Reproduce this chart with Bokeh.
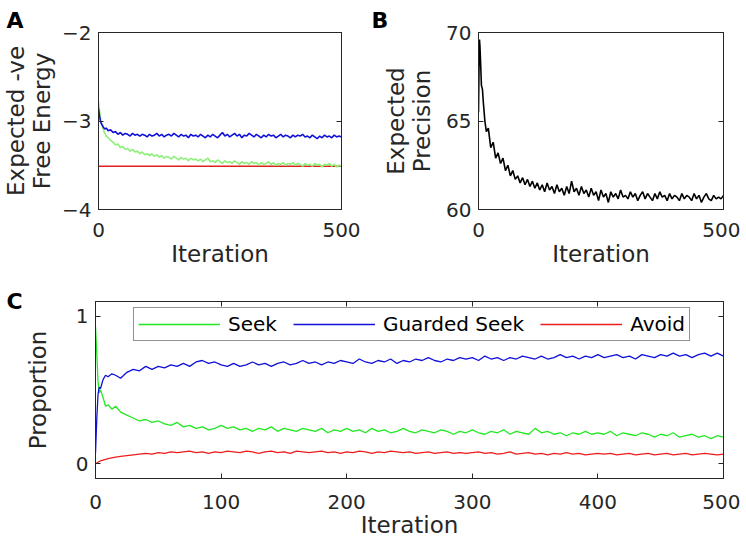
from bokeh.plotting import figure
from bokeh.models import Range1d, FixedTicker, LinearAxis, Title
from bokeh.layouts import column, row
from bokeh.embed import file_html
from bokeh.resources import INLINE

iters = [0, 1, 2, 3, 4, 6, 8, 10, 13, 16] + list(range(20, 505, 5))

a_guarded = [-2.86, -2.90, -2.94, -2.97, -3.00, -3.03, -3.05, -3.07, -3.09, -3.08,
             -3.11, -3.10, -3.13, -3.12, -3.15, -3.13, -3.16, -3.14, -3.15, -3.17, -3.14, -3.16, -3.15, -3.17, -3.15, -3.16, -3.18,
             -3.15, -3.17, -3.16, -3.14, -3.17, -3.15, -3.18, -3.16, -3.15, -3.17, -3.14, -3.16, -3.18, -3.15, -3.17, -3.16, -3.19, -3.15, -3.17, -3.16,
             -3.18, -3.15, -3.17, -3.19, -3.16, -3.18, -3.15, -3.17, -3.19, -3.16, -3.13, -3.17, -3.15, -3.18, -3.16, -3.14, -3.17, -3.15, -3.19, -3.16,
             -3.17, -3.14, -3.16, -3.18, -3.15, -3.17, -3.19, -3.16, -3.18, -3.15, -3.17, -3.16, -3.19, -3.17, -3.15, -3.18, -3.16, -3.17, -3.19, -3.16,
             -3.18, -3.16, -3.17, -3.15, -3.18, -3.17, -3.19, -3.16, -3.18, -3.20, -3.17, -3.19, -3.16, -3.18, -3.17, -3.19, -3.16, -3.18, -3.17, -3.18]
a_seek = [-2.78, -2.83, -2.88, -2.93, -2.97, -3.03, -3.06, -3.10, -3.14, -3.17,
          -3.19, -3.22, -3.24, -3.27, -3.26, -3.30, -3.29, -3.32, -3.31, -3.34, -3.32, -3.35, -3.34, -3.37, -3.35, -3.38, -3.37,
          -3.39, -3.37, -3.40, -3.38, -3.41, -3.39, -3.42, -3.40, -3.41, -3.43, -3.40, -3.42, -3.44, -3.41, -3.43, -3.42, -3.45, -3.42, -3.44, -3.43,
          -3.45, -3.43, -3.46, -3.44, -3.42, -3.46, -3.45, -3.47, -3.44, -3.46, -3.48, -3.45, -3.47, -3.46, -3.48, -3.45, -3.47, -3.49, -3.46, -3.48,
          -3.47, -3.49, -3.46, -3.48, -3.47, -3.50, -3.47, -3.49, -3.48, -3.46, -3.49, -3.47, -3.50, -3.48, -3.49, -3.47, -3.50, -3.48, -3.49, -3.47,
          -3.50, -3.48, -3.49, -3.51, -3.48, -3.50, -3.49, -3.51, -3.48, -3.50, -3.49, -3.52, -3.49, -3.50, -3.48, -3.51, -3.49, -3.52, -3.50, -3.51]
a_avoid_x = [0, 500]
a_avoid = [-3.51, -3.51]

b_precision = [65.5, 68.0, 69.6, 69.2, 68.5, 67.0, 66.8, 66.0, 65.0, 64.4,
               64.6, 63.5, 63.8, 62.9, 63.2, 62.6, 62.9, 62.2, 62.5, 61.9, 62.2, 61.7, 61.9, 61.5, 61.8, 61.4, 61.7,
               61.3, 61.6, 61.2, 61.5, 61.1, 61.4, 61.0, 61.5, 61.1, 61.3, 60.9, 61.4, 61.0, 61.2, 60.8, 61.3, 60.9, 61.6, 61.0, 61.2,
               60.8, 61.3, 60.9, 61.1, 60.7, 61.2, 60.8, 61.0, 60.5, 61.1, 60.7, 60.9, 60.4, 61.0, 60.7, 60.9, 60.6, 61.1, 60.7, 60.8,
               60.6, 61.0, 60.7, 60.9, 60.5, 60.8, 61.0, 60.6, 60.9, 60.7, 60.5, 60.9, 60.6, 61.0, 60.7, 60.8, 60.5, 60.9, 60.6, 60.8,
               60.7, 60.5, 60.9, 60.6, 60.8, 60.7, 60.5, 60.9, 60.6, 60.8, 60.4, 60.7, 60.9, 60.6, 60.5, 60.8, 60.6, 60.7, 60.6, 60.8]

c_seek = [0.93, 0.75, 0.56, 0.48, 0.50, 0.45, 0.39, 0.40, 0.37, 0.39,
          0.35, 0.33, 0.31, 0.29, 0.30, 0.28, 0.29, 0.27, 0.26, 0.28, 0.25, 0.26, 0.24, 0.25, 0.23, 0.24, 0.26,
          0.24, 0.25, 0.23, 0.24, 0.22, 0.24, 0.23, 0.25, 0.22, 0.24, 0.23, 0.22, 0.24, 0.23, 0.22, 0.24, 0.21, 0.23, 0.22, 0.24,
          0.22, 0.23, 0.21, 0.24, 0.22, 0.23, 0.21, 0.22, 0.24, 0.22, 0.21, 0.23, 0.22, 0.21, 0.23, 0.22, 0.20, 0.22, 0.21, 0.23,
          0.21, 0.20, 0.22, 0.21, 0.23, 0.20, 0.22, 0.21, 0.20, 0.24, 0.21, 0.22, 0.20, 0.21, 0.19, 0.21, 0.20, 0.22, 0.20, 0.21,
          0.20, 0.22, 0.19, 0.21, 0.20, 0.19, 0.21, 0.20, 0.18, 0.20, 0.19, 0.21, 0.18, 0.19, 0.20, 0.18, 0.19, 0.17, 0.19, 0.18]
c_guarded = [0.07, 0.30, 0.47, 0.52, 0.51, 0.57, 0.60, 0.59, 0.61, 0.60,
             0.58, 0.62, 0.64, 0.63, 0.66, 0.64, 0.66, 0.65, 0.67, 0.66, 0.68, 0.66, 0.69, 0.70, 0.68, 0.69, 0.67,
             0.66, 0.68, 0.66, 0.67, 0.69, 0.67, 0.68, 0.66, 0.68, 0.69, 0.67, 0.68, 0.70, 0.68, 0.69, 0.67, 0.69, 0.68, 0.70, 0.69,
             0.68, 0.71, 0.69, 0.68, 0.70, 0.69, 0.71, 0.68, 0.70, 0.69, 0.71, 0.70, 0.72, 0.70, 0.69, 0.71, 0.70, 0.72, 0.71, 0.72,
             0.70, 0.73, 0.71, 0.72, 0.70, 0.72, 0.71, 0.73, 0.72, 0.71, 0.73, 0.71, 0.72, 0.74, 0.72, 0.73, 0.71, 0.73, 0.72, 0.74,
             0.72, 0.73, 0.74, 0.72, 0.73, 0.71, 0.74, 0.73, 0.72, 0.74, 0.73, 0.75, 0.73, 0.74, 0.72, 0.74, 0.75, 0.73, 0.75, 0.73]
c_avoid = [0.00, 0.005, 0.01, 0.015, 0.02, 0.025, 0.03, 0.035, 0.04, 0.045,
           0.05, 0.055, 0.06, 0.065, 0.07, 0.065, 0.075, 0.07, 0.08, 0.075, 0.08, 0.085, 0.075, 0.08, 0.07, 0.08, 0.075,
           0.085, 0.08, 0.075, 0.085, 0.08, 0.07, 0.08, 0.085, 0.075, 0.08, 0.07, 0.085, 0.08, 0.075, 0.08, 0.085, 0.075, 0.08, 0.07, 0.08,
           0.075, 0.085, 0.08, 0.07, 0.08, 0.075, 0.085, 0.08, 0.075, 0.08, 0.07, 0.075, 0.08, 0.07, 0.075, 0.08, 0.07, 0.075, 0.07, 0.075,
           0.08, 0.07, 0.075, 0.065, 0.07, 0.08, 0.065, 0.07, 0.075, 0.065, 0.07, 0.06, 0.07, 0.065, 0.075, 0.065, 0.07, 0.06, 0.065, 0.07,
           0.065, 0.07, 0.06, 0.065, 0.07, 0.06, 0.065, 0.07, 0.06, 0.065, 0.07, 0.06, 0.065, 0.07, 0.06, 0.065, 0.07, 0.065, 0.06, 0.065]

a_yticks = [-4, -3, -2]
b_yticks = [60, 65, 70]
c_yticks = [0, 1]
ab_xticks = [0, 500]
c_xticks = [0, 100, 200, 300, 400, 500]
legend_names = ["Seek", "Guarded Seek", "Avoid"]

FONT = "DejaVu Sans"
INK = "#262626"


def style(p, xticks, yticks, xlabel, ylabel, ylabel_standoff, xl_standoff, xa_standoff):
    p.outline_line_color = INK
    p.outline_line_width = 1
    p.grid.visible = False
    p.background_fill_color = "white"
    p.border_fill_color = "white"
    for ax in (p.xaxis[0], p.yaxis[0]):
        ax.major_tick_in = 5
        ax.major_tick_out = 0
        ax.minor_tick_line_color = None
        ax.axis_line_color = INK
        ax.major_tick_line_color = INK
        ax.major_label_text_font = FONT
        ax.major_label_text_font_size = "20px"
        ax.major_label_text_color = INK
        ax.axis_label_text_font = FONT
        ax.axis_label_text_font_size = "23px"
        ax.axis_label_text_font_style = "normal"
        ax.axis_label_text_color = INK
        ax.axis_label_text_line_height = 1.0
    p.xaxis[0].ticker = FixedTicker(ticks=xticks)
    p.yaxis[0].ticker = FixedTicker(ticks=yticks)
    p.xaxis[0].axis_label = xlabel
    p.yaxis[0].axis_label = ylabel
    p.xaxis[0].major_label_standoff = xl_standoff
    p.xaxis[0].axis_label_standoff = xa_standoff
    p.yaxis[0].major_label_standoff = 7
    p.yaxis[0].axis_label_standoff = ylabel_standoff
    # mirrored tick marks (box)
    r = LinearAxis(ticker=FixedTicker(ticks=yticks), major_tick_in=5, major_tick_out=0,
                   minor_tick_line_color=None, axis_line_color=INK, major_tick_line_color=INK,
                   major_label_text_font_size="1px", major_label_text_alpha=0,
                   major_label_overrides={v: "" for v in yticks}, major_label_standoff=0)
    p.add_layout(r, "right")
    t = LinearAxis(ticker=FixedTicker(ticks=xticks), major_tick_in=5, major_tick_out=0,
                   minor_tick_line_color=None, axis_line_color=INK, major_tick_line_color=INK,
                   major_label_text_font_size="1px", major_label_text_alpha=0,
                   major_label_overrides={v: "" for v in xticks}, major_label_standoff=0)
    p.add_layout(t, "above")


def letter(p, text, offset, standoff):
    p.add_layout(Title(text=text, align="left", offset=offset, standoff=standoff,
                       vertical_align="bottom", text_font=FONT, text_font_style="bold",
                       text_font_size="22px", text_color="black"), "above")


# Panel A
pA = figure(width=370, height=280, output_backend="svg", toolbar_location=None,
            x_range=Range1d(0, 500), y_range=Range1d(-4, -2),
            min_border_left=95, min_border_right=29, min_border_top=32, min_border_bottom=71)
pA.line(a_avoid_x, a_avoid, line_color="#e02020", line_width=1.5)
pA.line(iters, a_seek, line_color="#8ef07a", line_width=1.6)
pA.line(iters, a_guarded, line_color="#1010d8", line_width=1.6)
style(pA, ab_xticks, a_yticks, "Iteration", "Expected -ve\nFree Energy", 4, 13, 1)
letter(pA, "A", -92, 0)

# Panel B
pB = figure(width=370, height=280, output_backend="svg", toolbar_location=None,
            x_range=Range1d(0, 500), y_range=Range1d(60, 70),
            min_border_left=108, min_border_right=17, min_border_top=32, min_border_bottom=71)
pB.line(iters, b_precision, line_color="black", line_width=1.6)
style(pB, ab_xticks, b_yticks, "Iteration", "Expected\nPrecision", 8, 13, 1)
letter(pB, "B", -107, 0)

# Panel C
pC = figure(width=740, height=262, output_backend="svg", toolbar_location=None,
            x_range=Range1d(0, 500), y_range=Range1d(-0.1, 1.1),
            min_border_left=95, min_border_right=17, min_border_top=21, min_border_bottom=64)
pC.line(iters, c_seek, line_color="#22e822", line_width=1.3, legend_label=legend_names[0])
pC.line(iters, c_guarded, line_color="#1010d8", line_width=1.3, legend_label=legend_names[1])
pC.line(iters, c_avoid, line_color="#ee1c1c", line_width=1.3, legend_label=legend_names[2])
style(pC, c_xticks, c_yticks, "Iteration", "Proportion", 22, 16, 0)
letter(pC, "C", -89, -24)
lg = pC.legend[0]
lg.orientation = "horizontal"
lg.location = (38, 137)
lg.glyph_width = 82
lg.glyph_height = 20
lg.label_height = 20
lg.label_text_font = FONT
lg.label_text_font_size = "20px"
lg.label_text_color = "black"
lg.label_standoff = 8
lg.spacing = 16
lg.padding = 4
lg.margin = 0
lg.border_line_color = INK
lg.border_line_width = 1.2
lg.background_fill_alpha = 1.0

layout = column(row(pA, pB), pC)
open("out.html", "w").write(file_html(layout, INLINE))
